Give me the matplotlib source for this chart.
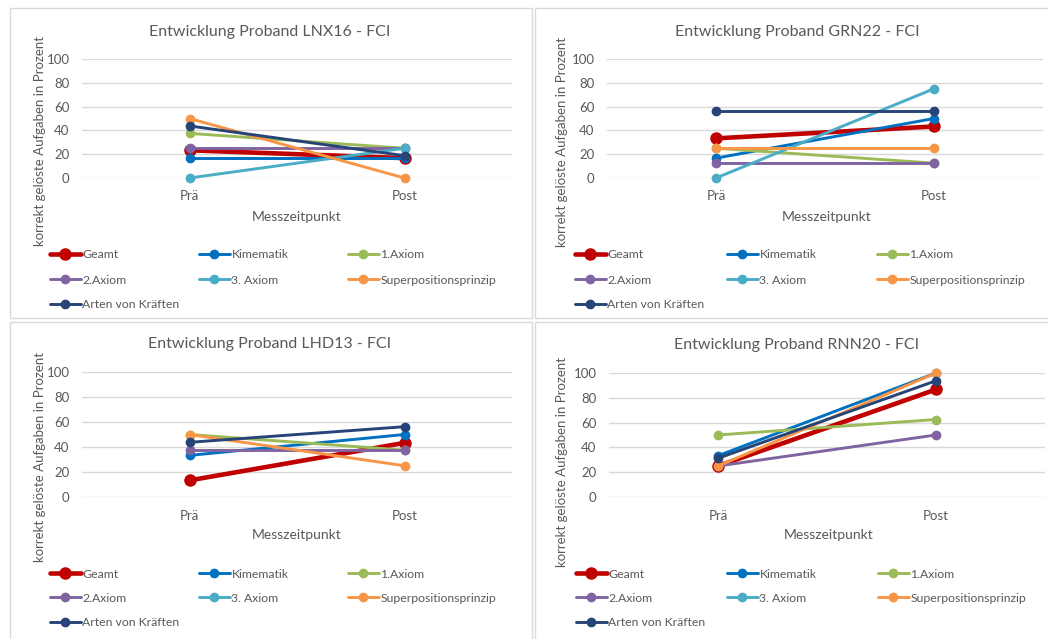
import numpy as np
import matplotlib
matplotlib.use("Agg")
import matplotlib.pyplot as plt
from matplotlib.patches import Rectangle

plt.rcParams['font.family'] = ['Lato', 'DejaVu Sans']

W, H = 1048, 639

zeitpunkte = ["Prä", "Post"]
serien = ["Geamt", "Kimematik", "1.Axiom", "2.Axiom", "3. Axiom",
          "Superpositionsprinzip", "Arten von Kräften"]
farben = ["#C00000", "#0070C0", "#9BBB59", "#8064A2", "#4BACC6",
          "#F79646", "#264478"]

# Werte in Prozent: [Prä, Post] je Teilbereich
lnx16 = [[23.3, 16.7], [16.7, 16.7], [37.5, 25.0], [25.0, 25.0],
         [0.0, 25.0], [50.0, 0.0], [43.75, 18.75]]
grn22 = [[33.3, 43.3], [16.7, 50.0], [25.0, 12.5], [12.5, 12.5],
         [0.0, 75.0], [25.0, 25.0], [56.25, 56.25]]
lhd13 = [[13.3, 43.3], [33.3, 50.0], [50.0, 37.5], [37.5, 37.5],
         [np.nan, np.nan], [50.0, 25.0], [43.75, 56.25]]
rnn20 = [[25.0, 86.7], [33.3, 100.0], [50.0, 62.5], [25.0, 50.0],
         [np.nan, np.nan], [25.0, 100.0], [31.25, 93.75]]

probanden = ["LNX16", "GRN22", "LHD13", "RNN20"]
daten = [lnx16, grn22, lhd13, rnn20]

GRAU = "#595959"

# Pixel-Layout je Panel: Rahmen, Plotfläche, Titel, Legende
panels = [
    dict(frame=(10, 8, 532, 318), plot=(82, 59, 512, 178), cx=270, ty=32,
         yl=(40, 141), xl=(297, 217), leg_x=(50, 199, 348), leg_y=(255, 280, 305)),
    dict(frame=(535, 8, 1060, 318), plot=(607, 59, 1043, 178), cx=797, ty=32,
         yl=(562, 142), xl=(827, 217), leg_x=(575, 727, 877), leg_y=(255, 280, 305)),
    dict(frame=(10, 322, 532, 660), plot=(82, 372, 512, 497), cx=270, ty=344,
         yl=(40, 457), xl=(297, 535), leg_x=(50, 199, 348), leg_y=(574, 598, 623)),
    dict(frame=(535, 322, 1060, 660), plot=(609, 373, 1045, 497), cx=797, ty=345,
         yl=(562, 462), xl=(829, 535), leg_x=(576, 727, 878), leg_y=(574, 598, 623)),
]

fig = plt.figure(figsize=(W / 100, H / 100), dpi=100)


def fx(x):
    return x / W


def fy(y):
    return 1 - y / H


for name, werte, p in zip(probanden, daten, panels):
    x0, y0, x1, y1 = p["frame"]
    fig.add_artist(Rectangle((fx(x0), fy(y1)), fx(x1 - x0), (y1 - y0) / H,
                             transform=fig.transFigure, fill=False,
                             edgecolor="#D9D9D9", lw=1.0))

    a0, b0, a1, b1 = p["plot"]
    ax = fig.add_axes([fx(a0), fy(b1), fx(a1 - a0), (b1 - b0) / H])
    ax.set_xlim(-0.5, 1.5)
    ax.set_ylim(0, 100)
    ax.set_yticks(range(0, 101, 20))
    ax.set_xticks([0, 1])
    ax.set_xticklabels(zeitpunkte)
    for s in ax.spines.values():
        s.set_visible(False)
    ax.yaxis.grid(True, color="#D9D9D9", lw=1.0)
    ax.set_axisbelow(True)
    ax.tick_params(length=0, labelsize=9.5, colors=GRAU)
    ax.tick_params(axis="y", pad=9)
    ax.tick_params(axis="x", pad=9)

    handles = []
    for i, (lab, col, v) in enumerate(zip(serien, farben, werte)):
        dick = i == 0
        h, = ax.plot([0, 1], v, color=col, lw=3.3 if dick else 2.1,
                     marker="o", ms=8 if dick else 6, label=lab,
                     clip_on=False, solid_capstyle="round")
        handles.append(h)

    fig.text(fx(p["cx"]), fy(p["ty"]), f"Entwicklung Proband {name} - FCI",
             ha="center", va="center", fontsize=11.5, color=GRAU)
    fig.text(fx(p["yl"][0]), fy(p["yl"][1]),
             "korrekt gelöste Aufgaben in Prozent", rotation=90,
             ha="center", va="center", fontsize=9.5, color=GRAU)
    fig.text(fx(p["xl"][0]), fy(p["xl"][1]), "Messzeitpunkt",
             ha="center", va="center", fontsize=10, color=GRAU)

    # Legende: drei Spalten, zeilenweise gefüllt
    for k, h in enumerate(handles):
        r, c = divmod(k, 3)
        fig.legend([h], [h.get_label()], loc="center left",
                   bbox_to_anchor=(fx(p["leg_x"][c]), fy(p["leg_y"][r])),
                   bbox_transform=fig.transFigure, frameon=False,
                   borderpad=0, borderaxespad=0, handlelength=2.5,
                   handletextpad=0.15, fontsize=8.8, labelcolor=GRAU)

fig.savefig("out.png", dpi=100, facecolor="white")
